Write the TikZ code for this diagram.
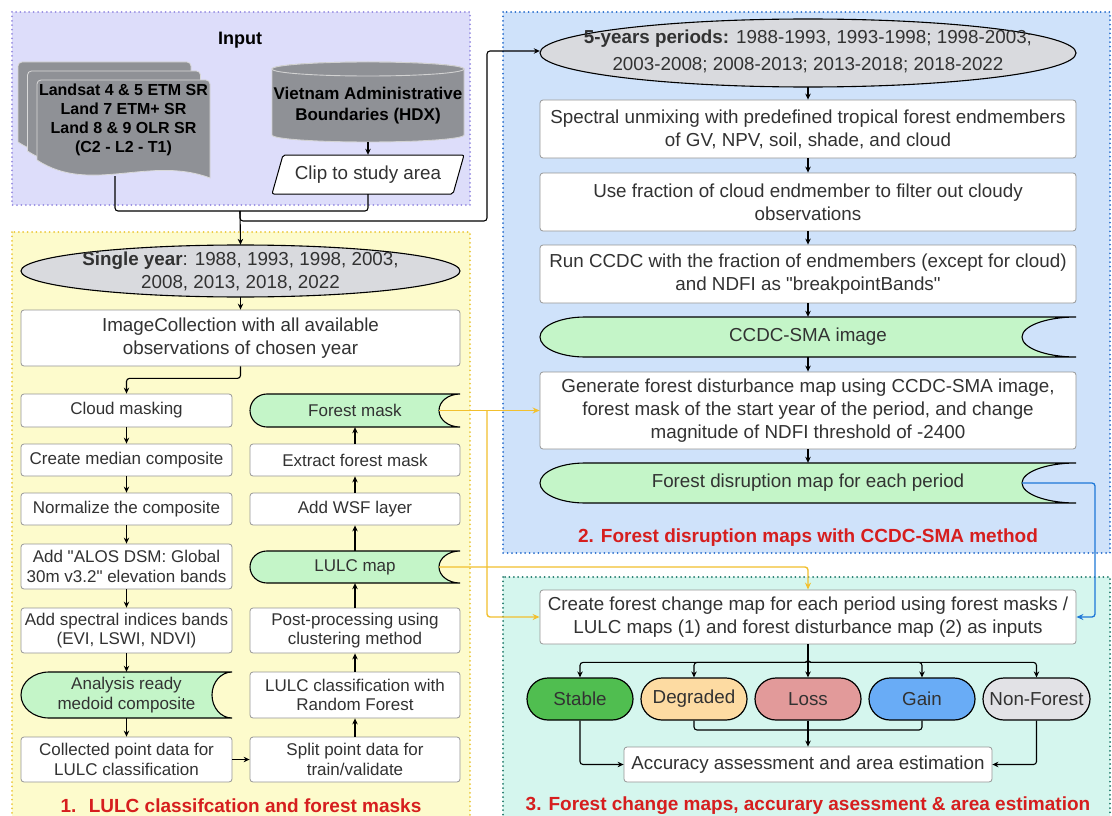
\documentclass[tikz,border=0pt]{standalone}
\usepackage{fontspec}
\setmainfont{Liberation Sans}[Ligatures=TeXOff]
\usetikzlibrary{arrows.meta,calc}
\definecolor{inpfill}{RGB}{221,221,250}
\definecolor{inpline}{RGB}{150,140,225}
\definecolor{pAfill}{RGB}{253,251,204}
\definecolor{pAline}{RGB}{235,200,60}
\definecolor{pBfill}{RGB}{207,226,250}
\definecolor{pBline}{RGB}{40,110,205}
\definecolor{pCfill}{RGB}{213,246,238}
\definecolor{pCline}{RGB}{30,120,105}
\definecolor{stgreen}{RGB}{196,245,200}
\definecolor{ellgray}{RGB}{217,218,222}
\definecolor{docgray}{RGB}{143,145,150}
\definecolor{txtgray}{RGB}{50,50,50}
\definecolor{boxline}{RGB}{150,150,150}
\definecolor{yel}{RGB}{242,192,46}
\definecolor{blu}{RGB}{30,120,215}
\definecolor{ttlred}{RGB}{214,30,30}
\definecolor{cstable}{RGB}{80,190,80}
\definecolor{cdeg}{RGB}{253,219,162}
\definecolor{closs}{RGB}{226,154,154}
\definecolor{cgain}{RGB}{105,172,246}
\definecolor{cnf}{RGB}{226,226,230}
% box by corners: name, style, x1, y1, x2, y2, text
\newcommand\bx[7]{\node[#2,minimum width={(#5-#3)*1pt},minimum height={(#6-#4)*1pt}] (#1) at ({(#3+#5)/2},{(#4+#6)/2}) {#7};}
% storage shape: name, x1, y1, x2, y2, rxl, rxr, font style, text
\newcommand\stor[9]{%
  \draw[storshape] ({#2+#6},#3) -- (#4,#3) arc[start angle=90,end angle=270,x radius=#7pt,y radius={(#5-#3)*0.5pt}] -- ({#2+#6},#5) arc[start angle=270,end angle=90,x radius=#6pt,y radius={(#5-#3)*0.5pt}] -- cycle;
  \node[#8,text=txtgray,align=center,inner sep=0pt,minimum width={(#4-#2)*1pt},minimum height={(#5-#3)*1pt}] (#1) at ({(#2+#4)/2},{(#3+#5)/2}) {#9};
  \coordinate (#1C) at ({#4-#7},{(#3+#5)/2});
}
\newcommand\sheet[2]{%
  \draw[sheetsty] ({#1+173},{#2+98}) .. controls ({#1+113},{#2+75}) and ({#1+53},{#2+115}) .. (#1,{#2+80}) [rounded corners=4pt] -- (#1,#2) -- ({#1+173},#2) [sharp corners] -- cycle;
}
\begin{document}
\begin{tikzpicture}[x=1pt,y=-1pt,
  fbig/.style={font=\fontsize{18.8}{23}\selectfont},
  fsmall/.style={font=\fontsize{17}{19.5}\selectfont},
  panel/.style={line width=2pt,dash pattern=on 0pt off 4.4pt,line cap=round},
  box/.style={draw=boxline,fill=white,rounded corners=3pt,line width=0.8pt,align=center,text=txtgray,inner sep=0pt},
  storshape/.style={draw=black,fill=stgreen,line width=1.1pt},
  sheetsty/.style={draw=white!70!gray,fill=docgray,line width=0.8pt},
  ellsty/.style={draw=black,fill=ellgray,line width=1.1pt},
  oval/.style={draw=black,line width=1.2pt,rounded corners=21pt,text=txtgray,inner sep=0pt,fbig},
  arr/.style={draw=black,line width=1.1pt,-{Stealth[length=6pt,width=5.5pt]},rounded corners=3pt},
  line/.style={draw=black,line width=1.1pt,rounded corners=3pt},
  yarr/.style={draw=yel,line width=1.4pt,-{Stealth[length=7pt,width=6pt]},rounded corners=3pt},
  barr/.style={draw=blu,line width=1.3pt,-{Stealth[length=7pt,width=6pt]},rounded corners=3pt},
  ttl/.style={text=ttlred,font=\fontsize{19}{23}\selectfont\bfseries}
]
\useasboundingbox (0,0) rectangle (1112,816);
\clip (0,0) rectangle (1112,816);
\fill[white] (0,0) rectangle (1112,816);

% panels
\filldraw[panel,draw=inpline,fill=inpfill] (12,12) rectangle (470,205);
\filldraw[panel,draw=pAline,fill=pAfill] (12,232) rectangle (470,840);
\filldraw[panel,draw=pBline,fill=pBfill] (503,12) rectangle (1110,553);
\filldraw[panel,draw=pCline,fill=pCfill] (503,577) rectangle (1110,840);

% ---------- Input ----------
\node[font=\fontsize{18}{22}\selectfont\bfseries] (inp) at (240,40) {Input};
\sheet{18}{62}
\sheet{27.5}{71}
\sheet{37}{80}
\node[align=center,inner sep=0pt,font=\fontsize{16}{19}\selectfont\bfseries] (docs) at (123.5,120) {Landsat 4 \& 5 ETM SR\\Land 7 ETM+ SR\\Land 8 \& 9 OLR SR\\(C2 - L2 - T1)};
\coordinate (docb) at (115,176);
% cylinder
\draw[draw=white!65!gray,fill=docgray,line width=0.9pt] (272,69) -- (272,135) arc[start angle=180,end angle=360,x radius=96pt,y radius=7pt] -- (464,69) arc[start angle=0,end angle=180,x radius=96pt,y radius=7pt] -- cycle;
\draw[draw=white!65!gray,fill=docgray,line width=0.9pt] (368,69) ellipse[x radius=96pt,y radius=7pt];
\node[align=center,inner sep=0pt,minimum width=192pt,minimum height=73pt,font=\fontsize{17}{21}\selectfont\bfseries] (vn) at (368,105.5) {Vietnam Administrative\\Boundaries (HDX)};
% clip parallelogram
\draw[draw=black,fill=white,line width=1pt,rounded corners=2pt] (283,155) -- (464,155) -- (453,194) -- (272,194) -- cycle;
\node[inner sep=0pt,minimum width=192pt,minimum height=39pt,text=txtgray,fbig] (clip) at (368,174.5) {Clip to study area};
\draw[arr] (vn.south) -- (clip.north);
\coordinate (jA) at (240,211);
\coordinate (jB) at (487,221);
\draw[line] (docb) |- (jA) -| (clip.south);

% ---------- Panel 1 ----------
\draw[ellsty] (240.5,271) ellipse[x radius=219.5pt,y radius=26pt];
\node[align=center,inner sep=0pt,text=txtgray,fbig,minimum width=439pt,minimum height=52pt] (sy) at (240.5,271) {\textbf{Single year}: 1988, 1993, 1998, 2003,\\2008, 2013, 2018, 2022};
\bx{ic}{box,fbig}{21}{310}{460}{366}{ImageCollection with all available\\observations of chosen year}
\bx{cm}{box,fsmall}{21}{394}{232}{427}{Cloud masking}
\bx{cmed}{box,fsmall}{21}{444}{232}{476}{Create median composite}
\bx{norm}{box,fsmall}{21}{493}{232}{525}{Normalize the composite}
\bx{alos}{box,fsmall}{21}{544}{232}{589}{Add "ALOS DSM: Global\\30m v3.2" elevation bands}
\bx{spi}{box,fsmall}{21}{608}{232}{653}{Add spectral indices bands\\(EVI, LSWI, NDVI)}
\stor{ard}{21}{672}{232}{718}{28}{20}{fsmall}{Analysis ready\\medoid composite}
\bx{coll}{box,fsmall}{21}{737}{232}{782}{Collected point data for\\LULC classification}
\stor{fm}{250}{394}{460}{427}{17}{21}{fsmall}{Forest mask}
\bx{efm}{box,fsmall}{250}{444}{460}{476}{Extract forest mask}
\bx{wsf}{box,fsmall}{250}{493}{460}{525}{Add WSF layer}
\stor{lulc}{250}{551}{460}{583}{17}{21}{fsmall}{LULC map}
\bx{pp}{box,fsmall}{250}{608}{460}{653}{Post-processing using\\clustering method}
\bx{rf}{box,fsmall}{250}{672}{460}{718}{LULC classification with\\Random Forest}
\bx{split}{box,fsmall}{250}{737}{460}{782}{Split point data for\\train/validate}
\node[ttl] (t1) at (241,806) {1.~ LULC classifcation and forest masks};

\draw[arr] (jA) -- (sy.north);
\draw[arr] (sy.south) -- (ic.north);
\draw[arr] (ic.south) -- ++(0,12) -| (cm.north);
\draw[arr] (cm.south) -- (cmed.north);
\draw[arr] (cmed.south) -- (norm.north);
\draw[arr] (norm.south) -- (alos.north);
\draw[arr] (alos.south) -- (spi.north);
\draw[arr] (spi.south) -- (ard.north);
\draw[arr] (ard.south) -- (coll.north);
\draw[arr] (coll.east) -- (split.west);
\draw[arr] (split.north) -- (rf.south);
\draw[arr] (rf.north) -- (pp.south);
\draw[arr] (pp.north) -- (lulc.south);
\draw[arr] (lulc.north) -- (wsf.south);
\draw[arr] (wsf.north) -- (efm.south);
\draw[arr] (efm.north) -- (fm.south);

% ---------- Panel 2 ----------
\draw[ellsty] (808,53) ellipse[x radius=268pt,y radius=34pt];
\node[align=center,inner sep=0pt,text=txtgray,fbig,minimum width=536pt,minimum height=72pt] (fy) at (808,51) {\textbf{5-years periods:} 1988-1993, 1993-1998; 1998-2003;\\[4pt]2003-2008; 2008-2013; 2013-2018; 2018-2022};
\bx{spx}{box,fbig}{540}{100}{1076}{158}{Spectral unmixing with predefined tropical forest endmembers\\of GV, NPV, soil, shade, and cloud}
\bx{frac}{box,fbig}{540}{173}{1076}{231}{Use fraction of cloud endmember to filter out cloudy\\observations}
\bx{ccdc}{box,fbig}{540}{245}{1076}{303}{Run CCDC with the fraction of endmembers (except for cloud)\\and NDFI as "breakpointBands"}
\stor{sma}{540}{317}{1076}{357}{45}{54}{fbig}{CCDC-SMA image}
\bx{gen}{box,fbig}{540}{372}{1076}{449}{Generate forest disturbance map using CCDC-SMA image,\\forest mask of the start year of the period, and change\\magnitude of NDFI threshold of -2400}
\stor{fd}{540}{463}{1076}{503}{45}{54}{fbig}{Forest disruption map for each period}
\node[ttl] (t2) at (808,538) {2. Forest disruption maps with CCDC-SMA method};

\draw[arr] (jA) |- (jB) |- (fy.west);
\draw[arr] (fy.south) -- (spx.north);
\draw[arr] (spx.south) -- (frac.north);
\draw[arr] (frac.south) -- (ccdc.north);
\draw[arr] (ccdc.south) -- (sma.north);
\draw[arr] (sma.south) -- (gen.north);
\draw[arr] (gen.south) -- (fd.north);

% ---------- Panel 3 ----------
\bx{cr}{box,fbig}{540}{590}{1076}{644}{Create forest change map for each period using forest masks /\\LULC maps (1) and forest disturbance map (2) as inputs}
\bx{st}{oval,fill=cstable}{527}{678}{633}{720}{Stable}
\bx{dg}{oval,fill=cdeg}{641}{678}{747}{720}{Degraded}
\bx{ls}{oval,fill=closs}{755}{678}{861}{720}{Loss}
\bx{gn}{oval,fill=cgain}{869}{678}{975}{720}{Gain}
\bx{nf}{oval,fill=cnf}{983}{678}{1090}{720}{Non-Forest}
\bx{acc}{box,fbig}{624}{747}{992}{782}{Accuracy assessment and area estimation}
\node[ttl] (t3) at (808,806) {3. Forest change maps, accurary asessment \& area estimation};

\draw[arr] (cr.south) -- ++(0,18) -| (st.north);
\draw[arr] (cr.south) -- ++(0,18) -| (dg.north);
\draw[arr] (cr.south) -- (ls.north);
\draw[arr] (cr.south) -- ++(0,18) -| (gn.north);
\draw[arr] (cr.south) -- ++(0,18) -| (nf.north);
\coordinate (jC) at (808,730);
\draw[line] (dg.south) |- (jC);
\draw[line] (gn.south) |- (jC);
\draw[arr] (ls.south) -- (acc.north);
\draw[arr] (st.south) |- (acc.west);
\draw[arr] (nf.south) |- (acc.east);

% cross-panel connectors
\coordinate (yv) at (487,410.5);
\draw[yarr] (fmC) -- (gen.west);
\draw[yarr] (yv) |- (cr.west);
\draw[yarr] (lulcC) -| (cr.north);
\coordinate (bv) at (1095,483);
\draw[barr] (fdC) -- (bv) |- (cr.east);
\end{tikzpicture}
\end{document}
